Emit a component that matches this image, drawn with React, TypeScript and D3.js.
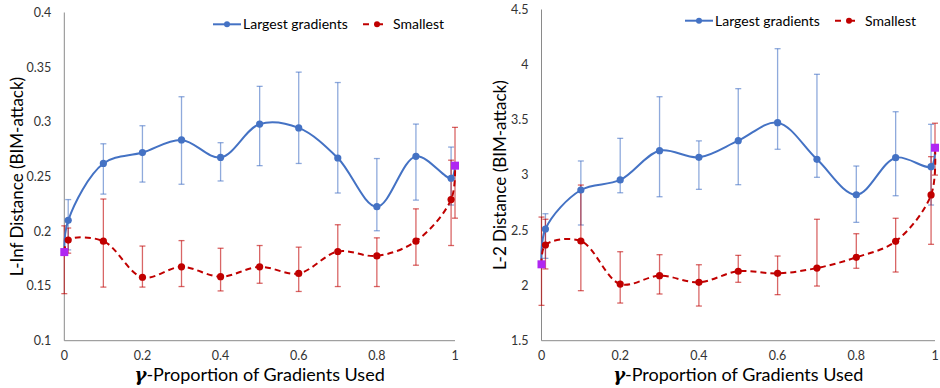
import * as React from 'react'
import * as d3 from 'd3'

// gamma values (0 and 1 are the purple baseline points)
const gammas = [0, 0.01, 0.1, 0.2, 0.3, 0.4, 0.5, 0.6, 0.7, 0.8, 0.9, 0.99, 1]

const linfLargest = [0.181, 0.210, 0.262, 0.272, 0.2835, 0.2675, 0.298, 0.2945, 0.267, 0.2225, 0.2685, 0.2485, 0.260]
const linfLargestLow = [null, 0.183, 0.234, 0.245, 0.243, 0.246, 0.260, 0.262, 0.235, 0.2005, 0.2285, 0.224, null]
const linfLargestHigh = [null, 0.229, 0.280, 0.2965, 0.323, 0.281, 0.3325, 0.3455, 0.336, 0.2665, 0.298, 0.277, null]
const linfSmallest = [0.181, 0.192, 0.191, 0.158, 0.1675, 0.1585, 0.1675, 0.1615, 0.1815, 0.1775, 0.191, 0.229, 0.260]
const linfSmallestLow = [0.143, 0.180, 0.149, 0.149, 0.1495, 0.1455, 0.1525, 0.145, 0.1495, 0.1495, 0.169, 0.187, 0.212]
const linfSmallestHigh = [0.205, 0.203, 0.2295, 0.1865, 0.1915, 0.1845, 0.187, 0.1855, 0.206, 0.194, 0.2205, 0.265, 0.295]

const l2Largest = [2.192, 2.512, 2.865, 2.956, 3.221, 3.161, 3.312, 3.475, 3.143, 2.822, 3.158, 3.076, 3.248]
const l2LargestLow = [null, 2.246, 2.548, 2.84, 2.804, 2.871, 2.913, 3.234, 2.98, 2.572, 2.813, 2.729, null]
const l2LargestHigh = [null, 2.65, 3.128, 3.333, 3.71, 3.31, 3.783, 4.145, 3.913, 3.082, 3.574, 3.46, null]
const l2Smallest = [2.192, 2.367, 2.403, 2.013, 2.089, 2.029, 2.129, 2.11, 2.158, 2.255, 2.40, 2.82, 3.248]
const l2SmallestLow = [1.82, 2.15, 1.953, 1.841, 1.923, 1.814, 2.029, 1.917, 1.995, 2.156, 2.122, 2.373, 3.0]
const l2SmallestHigh = [2.62, 2.60, 2.91, 2.306, 2.279, 2.188, 2.273, 2.267, 2.6, 2.469, 2.609, 3.167, 3.47]

const xTicks = [0, 0.2, 0.4, 0.6, 0.8, 1]
const linfTicks = [0.1, 0.15, 0.2, 0.25, 0.3, 0.35, 0.4]
const l2Ticks = [1.5, 2, 2.5, 3, 3.5, 4, 4.5]

const BLUE = '#4472C4'
const RED = '#C00000'
const PURPLE = '#B026F2'
const FONT = 'Lato, "Open Sans", sans-serif'

function Panel(props) {
  const { left, right, top, bottom, yDomain, yTicks, yLabel, labelX, legendX, legendY,
    big, bigLow, bigHigh, small, smallLow, smallHigh } = props

  const x = d3.scaleLinear().domain([0, 1]).range([left, right])
  const y = d3.scaleLinear().domain(yDomain).range([bottom, top])
  const line = d3.line().x(d => x(d[0])).y(d => y(d[1])).curve(d3.curveCatmullRom.alpha(0.5))

  const bigPts = gammas.map((g, i) => [g, big[i]])
  const smallPts = gammas.map((g, i) => [g, small[i]])

  const errBars = (lo, hi, color, key) => gammas.map((g, i) => {
    if (lo[i] == null) return null
    const cx = x(g)
    return (
      <g key={key + i} stroke={color} strokeOpacity={0.6} strokeWidth={1.3}>
        <line x1={cx} x2={cx} y1={y(lo[i])} y2={y(hi[i])} />
        <line x1={cx - 3} x2={cx + 3} y1={y(lo[i])} y2={y(lo[i])} />
        <line x1={cx - 3} x2={cx + 3} y1={y(hi[i])} y2={y(hi[i])} />
      </g>
    )
  })

  const inner = gammas.slice(1, -1)

  return (
    <g>
      {/* axes */}
      <line x1={left} x2={left} y1={top} y2={bottom} stroke="#8a8a8a" strokeWidth={1} />
      <line x1={left} x2={right} y1={bottom} y2={bottom} stroke="#8a8a8a" strokeWidth={1} />
      {yTicks.map(t => (
        <text key={t} x={left - 13} y={y(t)} dy="0.35em" textAnchor="end" fontSize={12.5} fill="#333">{t}</text>
      ))}
      {xTicks.map(t => (
        <text key={t} x={x(t)} y={bottom + 15} dy="0.35em" textAnchor="middle" fontSize={12.5} fill="#333">{t}</text>
      ))}
      <text transform={`translate(${labelX},${(top + bottom) / 2}) rotate(-90)`} textAnchor="middle"
        dy="0.35em" fontSize={17} fill="#000">{yLabel}</text>
      <text x={(left + right) / 2} y={bottom + 40.5} textAnchor="middle" fontSize={18} fill="#000">
        <tspan fontWeight="bold" fontStyle="italic" fontFamily='"DejaVu Serif", serif'>γ</tspan>
        <tspan>-Proportion of Gradients Used</tspan>
      </text>

      {/* error bars */}
      {errBars(bigLow, bigHigh, BLUE, 'b')}
      {errBars(smallLow, smallHigh, RED, 'r')}

      {/* lines */}
      <path d={line(bigPts)} fill="none" stroke={BLUE} strokeWidth={2} />
      <path d={line(smallPts)} fill="none" stroke={RED} strokeWidth={2} strokeDasharray="6,4" />

      {/* markers */}
      {inner.map((g, j) => (
        <circle key={'bc' + j} cx={x(g)} cy={y(big[j + 1])} r={3.6} fill={BLUE} />
      ))}
      {inner.map((g, j) => (
        <circle key={'rc' + j} cx={x(g)} cy={y(small[j + 1])} r={3.6} fill={RED} />
      ))}
      {[0, gammas.length - 1].map(i => (
        <rect key={'p' + i} x={x(gammas[i]) - 4} y={y(big[i]) - 4} width={8} height={8} fill={PURPLE} />
      ))}

      {/* legend */}
      <g transform={`translate(${legendX},${legendY})`}>
        <line x1={0} x2={28} y1={0} y2={0} stroke={BLUE} strokeWidth={2} />
        <circle cx={14} cy={0} r={3} fill={BLUE} />
        <text x={30} y={0} dy="0.35em" fontSize={14} fill="#000">Largest gradients</text>
        <line x1={150} x2={178} y1={0} y2={0} stroke={RED} strokeWidth={2} strokeDasharray="6,8" />
        <circle cx={164} cy={0} r={3} fill={RED} />
        <text x={180} y={0} dy="0.35em" fontSize={14} fill="#000">Smallest</text>
      </g>
    </g>
  )
}

export default function App() {
  return (
    <svg width={940} height={388} style={{ position: 'absolute', left: 0, top: 0, background: '#fff' }}
      fontFamily={FONT}>
      <Panel left={64.3} right={455} top={12.5} bottom={340.7} yDomain={[0.1, 0.4]} yTicks={linfTicks}
        yLabel="L-Inf Distance (BIM-attack)" labelX={17} legendX={213} legendY={24.3}
        big={linfLargest} bigLow={linfLargestLow} bigHigh={linfLargestHigh}
        small={linfSmallest} smallLow={linfSmallestLow} smallHigh={linfSmallestHigh} />
      <Panel left={541.5} right={935} top={9.5} bottom={340.7} yDomain={[1.5, 4.5]} yTicks={l2Ticks}
        yLabel="L-2 Distance (BIM-attack)" labelX={500} legendX={685} legendY={20.7}
        big={l2Largest} bigLow={l2LargestLow} bigHigh={l2LargestHigh}
        small={l2Smallest} smallLow={l2SmallestLow} smallHigh={l2SmallestHigh} />
    </svg>
  )
}
